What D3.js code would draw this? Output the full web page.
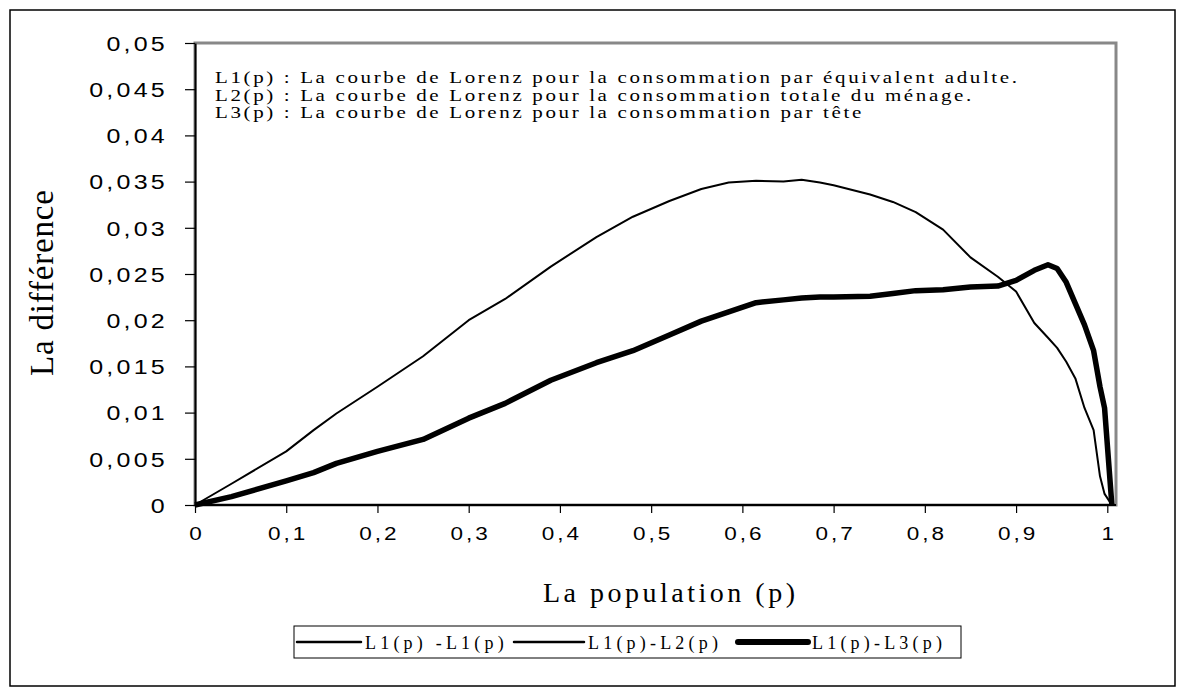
<!DOCTYPE html>
<html>
<head>
<meta charset="utf-8">
<script src="https://cdn.jsdelivr.net/npm/d3@7/dist/d3.min.js"></script>
<style>
  body { margin: 0; background: #fff; }
</style>
</head>
<body>
<script>

    // population share p (x values)
    var p = [0, 0.04, 0.1, 0.13, 0.155, 0.2, 0.25, 0.3, 0.34, 0.39, 0.44, 0.48, 0.52, 0.555, 0.585,
             0.615, 0.645, 0.665, 0.685, 0.7, 0.74, 0.765, 0.79, 0.82, 0.85, 0.88, 0.9, 0.92, 0.935,
             0.945, 0.955, 0.965, 0.975, 0.985, 0.992, 0.997, 1.005];

    // L1(p) - L1(p)
    var diff11 = [0, 0, 0, 0, 0, 0, 0, 0, 0, 0, 0, 0, 0, 0, 0,
                  0, 0, 0, 0, 0, 0, 0, 0, 0, 0, 0, 0, 0, 0,
                  0, 0, 0, 0, 0, 0, 0, 0];

    // L1(p) - L2(p)
    var diff12 = [0, 0.0023, 0.0058, 0.0081, 0.0099, 0.0128, 0.0161, 0.0200, 0.0223, 0.0258, 0.0290,
                  0.0312, 0.0329, 0.0342, 0.0349, 0.0351, 0.0350, 0.0352, 0.0349, 0.0346, 0.0336,
                  0.0328, 0.0317, 0.0298, 0.0268, 0.0247, 0.0231, 0.0197, 0.0181, 0.0170, 0.0155,
                  0.0137, 0.0105, 0.0081, 0.0031, 0.0012, 0];

    // L1(p) - L3(p)
    var diff13 = [0, 0.0009, 0.0026, 0.0035, 0.0045, 0.0058, 0.0071, 0.0094, 0.0110, 0.0135, 0.0154,
                  0.0167, 0.0184, 0.0199, 0.0209, 0.0219, 0.0222, 0.0224, 0.0225, 0.0225, 0.0226,
                  0.0229, 0.0232, 0.0233, 0.0236, 0.0237, 0.0243, 0.0254, 0.0260, 0.0256, 0.0241,
                  0.0218, 0.0195, 0.0167, 0.0128, 0.0105, 0];

    var seriesNames = ["L1(p) -L1(p)", "L1(p)-L2(p)", "L1(p)-L3(p)"];
    var seriesWidth = [2, 2, 5.5];

    var xTicks = [0, 0.1, 0.2, 0.3, 0.4, 0.5, 0.6, 0.7, 0.8, 0.9, 1];
    var yTicks = [0, 0.005, 0.01, 0.015, 0.02, 0.025, 0.03, 0.035, 0.04, 0.045, 0.05];

    var notes = [
        "L1(p) : La courbe de Lorenz pour la consommation par équivalent adulte.",
        "L2(p) : La courbe de Lorenz pour la consommation totale du ménage.",
        "L3(p) : La courbe de Lorenz pour la consommation par tête"
    ];

    var W = 1185, H = 694;
    var svg = d3.select("body").append("svg")
        .attr("width", W)
        .attr("height", H);

    // outer frame
    svg.append("rect")
        .attr("x", 10).attr("y", 10)
        .attr("width", 1165).attr("height", 676)
        .attr("fill", "none")
        .attr("stroke", "#000")
        .attr("stroke-width", 1.5);

    var x = d3.scaleLinear().domain([0, 1]).range([195, 1107.3]);
    var y = d3.scaleLinear().domain([0, 0.05]).range([505, 43]);

    // plot area border (grey)
    svg.append("rect")
        .attr("x", 195).attr("y", 43)
        .attr("width", 921).attr("height", 462)
        .attr("fill", "none")
        .attr("stroke", "#888")
        .attr("stroke-width", 3);

    var comma = function(d){ return String(+d.toFixed(3)).replace(".", ","); };
    var sx = 1.25;   // numbers are drawn a little wider than normal

    // y axis
    var yAxis = svg.append("g")
        .attr("transform", "translate(195,0)")
        .call(d3.axisLeft(y).tickValues(yTicks).tickSize(10).tickSizeOuter(0).tickFormat(comma));
    yAxis.select(".domain").attr("stroke", "#000").attr("stroke-width", 2);
    yAxis.selectAll(".tick line").attr("stroke", "#000").attr("stroke-width", 1.2);
    yAxis.selectAll(".tick text")
        .attr("x", -27 / sx)
        .attr("dy", "0.36em")
        .attr("transform", "scale(" + sx + ",1)")
        .attr("font-family", "'Liberation Sans', Arial, sans-serif")
        .attr("font-size", 20)
        .attr("letter-spacing", 2.6)
        .attr("fill", "#000");

    // x axis
    var xAxis = svg.append("g")
        .attr("transform", "translate(0,505)")
        .call(d3.axisBottom(x).tickValues(xTicks).tickSize(8).tickSizeOuter(0).tickFormat(comma));
    xAxis.select(".domain").attr("stroke", "#000").attr("stroke-width", 2)
        .attr("d", "M195,0H1116");
    xAxis.selectAll(".tick line").attr("stroke", "#000").attr("stroke-width", 1.2);
    xAxis.selectAll(".tick text")
        .attr("x", 1.2)
        .attr("y", 35)
        .attr("dy", 0)
        .attr("transform", "scale(" + sx + ",1)")
        .attr("font-family", "'Liberation Sans', Arial, sans-serif")
        .attr("font-size", 18)
        .attr("letter-spacing", 2.4)
        .attr("fill", "#000");

    // series
    var line = d3.line()
        .x(function(d){ return x(d[0]); })
        .y(function(d){ return y(d[1]); });

    var allSeries = [diff11, diff12, diff13];
    svg.selectAll("path.series")
        .data(allSeries)
        .enter().append("path")
        .attr("class", "series")
        .attr("d", function(vals){ return line(p.map(function(pp, i){ return [pp, vals[i]]; })); })
        .attr("fill", "none")
        .attr("stroke", "#000")
        .attr("stroke-linejoin", "round")
        .attr("stroke-width", function(d, i){ return seriesWidth[i]; });

    // notes inside the plot (wide glyphs, spaced out like the original)
    var ns = 1.2;
    var noteText = svg.selectAll("text.note")
        .data(notes)
        .enter().append("text")
        .attr("class", "note")
        .attr("transform", function(d, i){ return "translate(215," + (83 + i * 17.6) + ") scale(" + ns + ",1)"; })
        .attr("font-family", "'Liberation Serif', 'Times New Roman', serif")
        .attr("font-size", 17.5)
        .attr("fill", "#000")
        .text(function(d){ return d; });
    var first = noteText.node();
    var ls = (802 / ns - first.getComputedTextLength()) / (first.getNumberOfChars() - 1);
    noteText.attr("letter-spacing", ls);

    // axis titles
    svg.append("text")
        .attr("transform", "translate(53,283) rotate(-90)")
        .attr("text-anchor", "middle")
        .attr("font-family", "'Liberation Serif', 'Times New Roman', serif")
        .attr("font-size", 33)
        .attr("textLength", 186)
        .attr("lengthAdjust", "spacing")
        .text("La différence");

    svg.append("text")
        .attr("x", 669)
        .attr("y", 602)
        .attr("text-anchor", "middle")
        .attr("font-family", "'Liberation Serif', 'Times New Roman', serif")
        .attr("font-size", 28)
        .attr("textLength", 252)
        .attr("lengthAdjust", "spacing")
        .text("La population (p)");

    // legend
    var legend = svg.append("g");
    legend.append("rect")
        .attr("x", 294).attr("y", 626)
        .attr("width", 667).attr("height", 32)
        .attr("fill", "#fff")
        .attr("stroke", "#000")
        .attr("stroke-width", 1);

    var legendStart = [297, 514, 738];
    var items = legend.selectAll("g.item")
        .data(seriesNames)
        .enter().append("g")
        .attr("class", "item")
        .attr("transform", function(d, i){ return "translate(" + legendStart[i] + ",642)"; });
    items.append("line")
        .attr("x1", 0).attr("x2", function(d, i){ return i == 0 ? 64 : 70; })
        .attr("stroke", "#000")
        .attr("stroke-linecap", "round")
        .attr("stroke-width", function(d, i){ return seriesWidth[i] + 0.5; });
    items.append("text")
        .attr("x", function(d, i){ return i == 0 ? 68 : 74; })
        .attr("y", 6.5)
        .attr("font-family", "'Liberation Serif', 'Times New Roman', serif")
        .attr("font-size", 18)
        .attr("letter-spacing", 4.2)
        .text(function(d){ return d; });

</script>
</body>
</html>
